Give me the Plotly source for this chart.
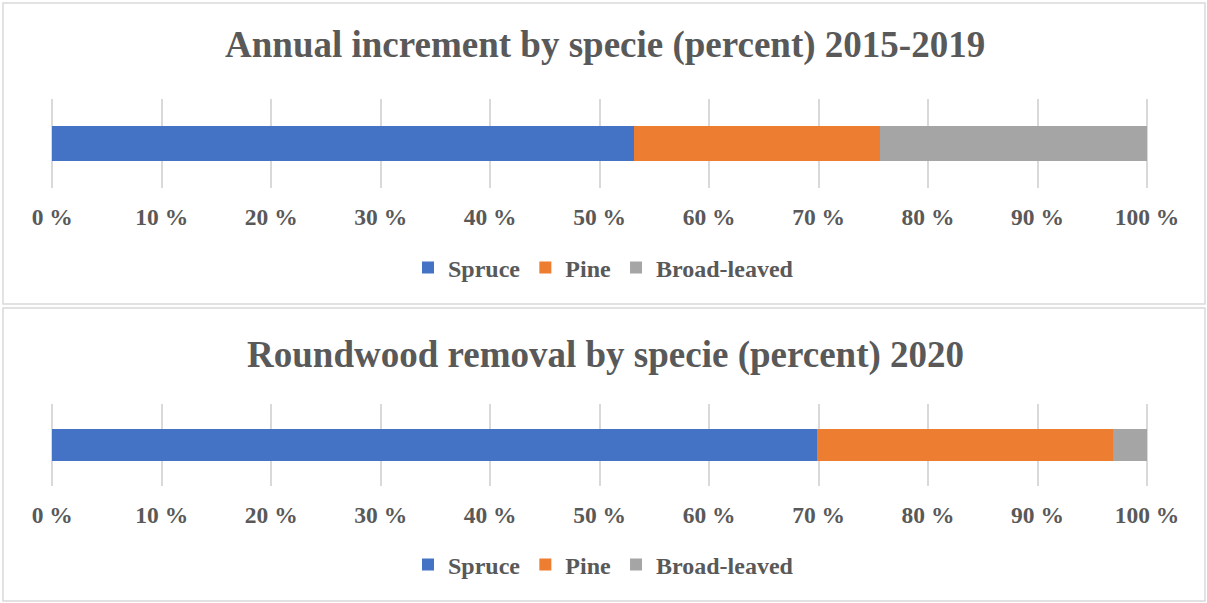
import plotly.graph_objects as go

W, H = 1207, 603

species = ["Spruce", "Pine", "Broad-leaved"]
colors = ["#4472C4", "#ED7D31", "#A5A5A5"]
increment_2015_2019 = [53.1, 22.5, 24.4]
removal_2020 = [69.9, 27.0, 3.1]
tick_values = [0, 10, 20, 30, 40, 50, 60, 70, 80, 90, 100]
tick_labels = [f"{v} %" for v in tick_values]

title_top = "Annual increment by specie (percent) 2015-2019"
title_bottom = "Roundwood removal by specie (percent) 2020"

FONT = "Liberation Serif, Times New Roman, serif"
GRAY = "#595959"

fig = go.Figure()

for name, col, v in zip(species, colors, increment_2015_2019):
    fig.add_trace(go.Bar(x=[v], y=["a"], orientation="h", name=name,
                         marker=dict(color=col, line=dict(width=0)),
                         xaxis="x", yaxis="y", legend="legend", width=0.4,
                         hoverinfo="skip"))
for name, col, v in zip(species, colors, removal_2020):
    fig.add_trace(go.Bar(x=[v], y=["a"], orientation="h", name=name,
                         marker=dict(color=col, line=dict(width=0)),
                         xaxis="x2", yaxis="y2", legend="legend2", width=0.4,
                         hoverinfo="skip"))

def py(px):
    return 1 - px / H

def pxx(px):
    return px / W

# 0 % at x=52.3 px, 100 % at x=1147 px; pad the range slightly so the
# edge gridlines are drawn
x0_px, x100_px = 52.3, 1147.0
pad = 0.3
unit = (x100_px - x0_px) / 100
xdom = [pxx(x0_px - pad * unit), pxx(x100_px + pad * unit)]
xaxis_common = dict(range=[-pad, 100 + pad], tickvals=tick_values, ticktext=tick_labels,
                    showgrid=True, gridcolor="#D9D9D9", gridwidth=1.5,
                    zeroline=False, showline=False, ticks="",
                    ticklabelstandoff=12, automargin=False,
                    tickfont=dict(family=FONT, size=23.5, color=GRAY, weight="bold"),
                    fixedrange=True)
yaxis_common = dict(showticklabels=False, showgrid=False, zeroline=False,
                    range=[-0.5, 0.5], fixedrange=True, automargin=False)

legend_common = dict(orientation="h", xanchor="center", x=0.5, yanchor="middle",
                     font=dict(family=FONT, size=24, color=GRAY, weight="bold"),
                     itemwidth=30, bgcolor="rgba(0,0,0,0)", traceorder="normal",
                     tracegroupgap=0)

fig.update_layout(
    template="none",
    width=W, height=H, autosize=False,
    margin=dict(l=0, r=0, t=0, b=0, pad=0),
    paper_bgcolor="white", plot_bgcolor="white",
    barmode="stack",
    xaxis=dict(domain=xdom, anchor="y", **xaxis_common),
    yaxis=dict(domain=[py(188), py(99)], anchor="x", **yaxis_common),
    xaxis2=dict(domain=xdom, anchor="y2", **xaxis_common),
    yaxis2=dict(domain=[py(486), py(404)], anchor="x2", **yaxis_common),
    legend=dict(y=py(268), **legend_common),
    legend2=dict(y=py(565), **legend_common),
    showlegend=True,
    shapes=[
        dict(type="rect", xref="paper", yref="paper",
             x0=pxx(3), x1=pxx(1205), y0=py(304), y1=py(3),
             line=dict(color="#D9D9D9", width=1.5), layer="below"),
        dict(type="rect", xref="paper", yref="paper",
             x0=pxx(3), x1=pxx(1205), y0=py(601), y1=py(308),
             line=dict(color="#D9D9D9", width=1.5), layer="below"),
    ],
    annotations=[
        dict(text=title_top, xref="paper", yref="paper", x=pxx(605), y=py(45),
             xanchor="center", yanchor="middle", showarrow=False,
             font=dict(family=FONT, size=37, color=GRAY, weight="bold")),
        dict(text=title_bottom, xref="paper", yref="paper", x=pxx(605), y=py(355),
             xanchor="center", yanchor="middle", showarrow=False,
             font=dict(family=FONT, size=37, color=GRAY, weight="bold")),
    ],
)

fig.write_html("out.html")
